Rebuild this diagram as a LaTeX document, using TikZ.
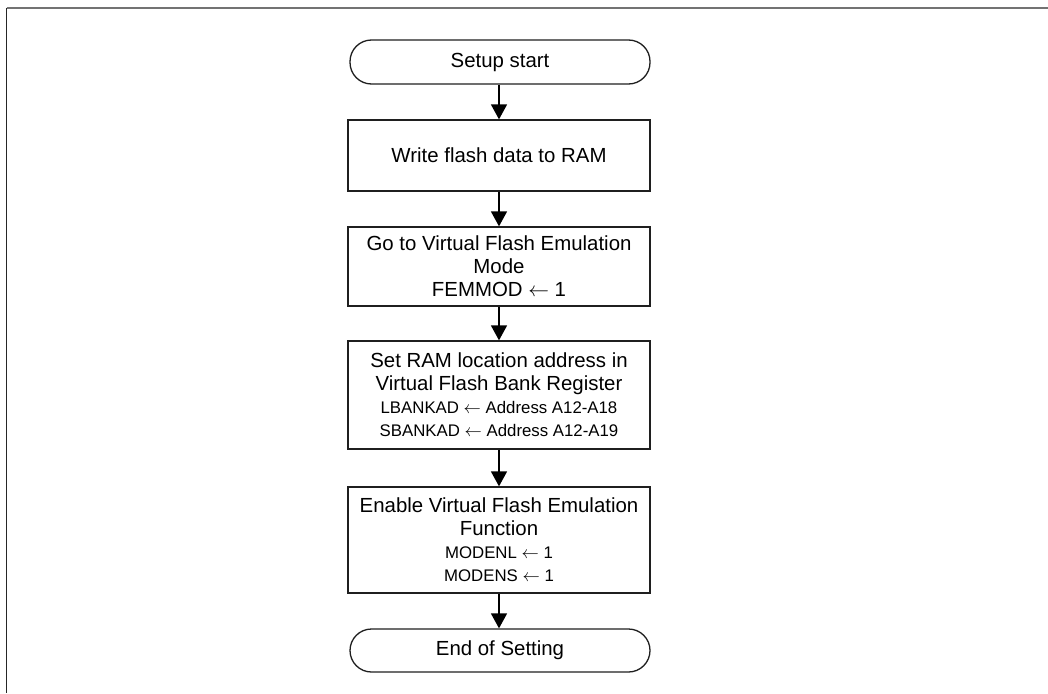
\documentclass[tikz,border=0pt]{standalone}
\usepackage{fontspec}
\setmainfont{Liberation Sans}
\usetikzlibrary{arrows.meta}
\newcommand\regfont{\fontsize{16.8}{22}\selectfont}
\begin{document}
\begin{tikzpicture}[x=1pt,y=-1pt,
  box/.style={draw=black!88,line width=1.3pt,rectangle,minimum width=302pt,inner sep=0pt,align=center,font=\fontsize{20.4}{23}\selectfont},
  term/.style={draw=black!88,line width=1.3pt,rectangle,rounded corners=21.5pt,minimum width=300pt,inner sep=0pt,font=\fontsize{20.4}{23}\selectfont},
  flow/.style={-{Triangle[width=16pt,length=15pt]},line width=1.5pt,draw=black}]
\useasboundingbox (0,0) rectangle (1048,693);
\coordinate (fa) at (6.6,7.8);
\coordinate (fb) at (1048,7.8);
\coordinate (fc) at (6.6,693);
\draw[line width=1.8pt,draw=black!55] (fa) -- (fb);
\draw[line width=1.6pt,draw=black!85] (fa) -- (fc);
\node[term,minimum height=44pt] (t1) at (500,62) {Setup start};
\node[box,minimum height=71pt] (b1) at (499,155.5) {Write flash data to RAM};
\node[box,minimum height=79pt] (b2) at (499,266.5) {Go to Virtual Flash Emulation\\Mode\\FEMMOD $\leftarrow$ 1};
\node[box,minimum height=108pt] (b3) at (499,395) {Set RAM location address in\\Virtual Flash Bank Register\\{\regfont LBANKAD $\leftarrow$ Address A12-A18}\\{\regfont SBANKAD $\leftarrow$ Address A12-A19}};
\node[box,minimum height=106pt] (b4) at (499,540) {Enable Virtual Flash Emulation\\Function\\{\regfont MODENL $\leftarrow$ 1}\\{\regfont MODENS $\leftarrow$ 1}};
\node[term,minimum height=43pt] (t2) at (500,650.5) {End of Setting};
\draw[flow] (t1.south -| b1.north) -- (b1.north);
\draw[flow] (b1) -- (b2);
\draw[flow] (b2) -- (b3);
\draw[flow] (b3) -- (b4);
\draw[flow] (b4.south) -- (b4.south |- t2.north);
\end{tikzpicture}
\end{document}
